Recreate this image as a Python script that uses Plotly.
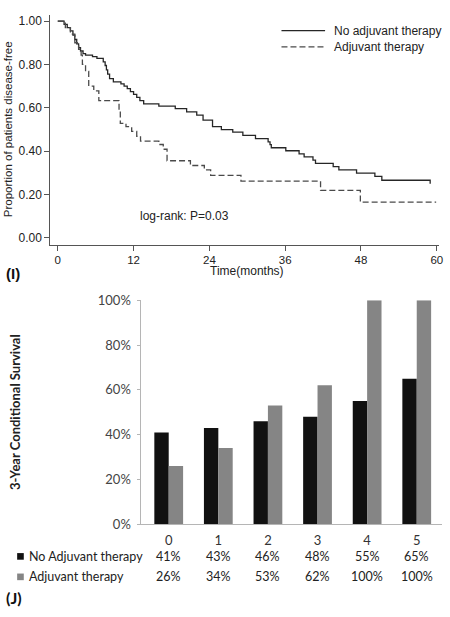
import plotly.graph_objects as go

# ---------------- Data ----------------
# Kaplan-Meier (panel I)
t_no_adj = [0, 1.0, 1.5, 2.0, 2.4, 2.7, 3.0, 3.3, 3.6, 4.0, 4.4, 5.5, 6.2, 7.2, 7.5, 7.7, 7.9, 8.2, 8.8,
            10.0, 10.5, 11.0, 11.5, 12.0, 12.5, 13.0, 13.6, 16.0, 18.6, 20.4, 22.0, 23.0, 24.5, 25.9,
            27.7, 29.3, 31.3, 33.3, 33.6, 33.8, 36.1, 38.2, 39.0, 40.4, 40.8, 43.6, 44.5, 47.3, 50.2,
            51.3, 58.9, 58.95]
s_no_adj = [1.0, 0.985, 0.97, 0.955, 0.935, 0.915, 0.895, 0.877, 0.862, 0.850, 0.843, 0.836, 0.828,
            0.812, 0.795, 0.775, 0.755, 0.735, 0.72, 0.71, 0.70, 0.688, 0.675, 0.662, 0.648, 0.633,
            0.618, 0.608, 0.596, 0.581, 0.566, 0.543, 0.513, 0.499, 0.488, 0.473, 0.458, 0.443, 0.43,
            0.416, 0.402, 0.388, 0.374, 0.359, 0.344, 0.329, 0.314, 0.299, 0.284, 0.266, 0.266, 0.25]

t_adj = [0, 1.2, 2.0, 2.7, 3.3, 3.7, 3.9, 4.4, 4.9, 5.7, 6.5, 9.7, 9.9, 10.8, 11.7, 12.5, 13.1,
         16.0, 16.7, 17.3, 21.0, 23.2, 24.2, 29.0, 41.6, 47.9, 59.9]
s_adj = [1.0, 0.97, 0.94, 0.90, 0.87, 0.843, 0.80, 0.768, 0.70, 0.678, 0.633, 0.58, 0.528, 0.513,
         0.491, 0.469, 0.446, 0.431, 0.409, 0.356, 0.334, 0.314, 0.289, 0.262, 0.219, 0.165, 0.165]

km_xticks = [0, 12, 24, 36, 48, 60]
km_yticks = [0.0, 0.2, 0.4, 0.6, 0.8, 1.0]
km_yticklabels = ["0.00", "0.20", "0.40", "0.60", "0.80", "1.00"]

# Conditional survival (panel J)
years = [0, 1, 2, 3, 4, 5]
cs_no_adj = [41, 43, 46, 48, 55, 65]
cs_adj = [26, 34, 53, 62, 100, 100]
cs_yticks = [0, 20, 40, 60, 80, 100]
cs_yticklabels = ["0%", "20%", "40%", "60%", "80%", "100%"]

series_names = ["No Adjuvant therapy", "Adjuvant therapy"]

# ---------------- Figure ----------------
W, H = 450, 617


def px(x):
    return x / W


def py(y):
    return 1 - y / H


ARIAL = "Liberation Sans"
CAL = "Lato"

fig = go.Figure()
fig.add_trace(go.Scatter(x=t_no_adj, y=s_no_adj, mode="lines", name="No adjuvant therapy",
                         line=dict(shape="hv", color="#262626", width=1.3),
                         xaxis="x", yaxis="y", showlegend=False))
fig.add_trace(go.Scatter(x=t_adj, y=s_adj, mode="lines", name="Adjuvant therapy",
                         line=dict(shape="hv", color="#4a4a4a", width=1.3, dash="6px,3px"),
                         xaxis="x", yaxis="y", showlegend=False))

fig.add_trace(go.Bar(x=years, y=cs_no_adj, name=series_names[0], marker=dict(color="#111111", line=dict(width=0)),
                     xaxis="x2", yaxis="y2", showlegend=False))
fig.add_trace(go.Bar(x=years, y=cs_adj, name=series_names[1], marker=dict(color="#858585", line=dict(width=0)),
                     xaxis="x2", yaxis="y2", showlegend=False))

annotations = []
shapes = []

# KM legend (manual)
leg_rows = [("No adjuvant therapy", 23.3, "solid", "#262626"), ("Adjuvant therapy", 40.0, "6px,3px", "#4a4a4a")]
for text, yy, dash, col in leg_rows:
    shapes.append(dict(type="line", xref="paper", yref="paper", x0=px(284), x1=px(328), y0=py(yy), y1=py(yy),
                       line=dict(color=col, width=1.3, dash=dash)))
    annotations.append(dict(text=text, xref="paper", yref="paper", x=px(335), y=py(yy), xanchor="left",
                            yanchor="middle", showarrow=False, font=dict(family=ARIAL, size=12, color="#222")))

annotations.append(dict(text="log-rank: P=0.03", xref="x", yref="y", x=20, y=0.10, showarrow=False,
                        xanchor="center", yanchor="middle", font=dict(family=ARIAL, size=12, color="#222")))
annotations.append(dict(text="Time(months)", xref="paper", yref="paper", x=px(249.5), y=py(270),
                        showarrow=False, xanchor="center", yanchor="middle",
                        font=dict(family=ARIAL, size=12, color="#222")))
annotations.append(dict(text="Proportion of patients disease-free", xref="paper", yref="paper", x=px(8),
                        y=py(124.5), showarrow=False, textangle=-90, xanchor="center", yanchor="middle",
                        font=dict(family=ARIAL, size=11.5, color="#222")))
annotations.append(dict(text="<b>(I)</b>", xref="paper", yref="paper", x=px(4), y=py(273), showarrow=False,
                        xanchor="left", yanchor="middle", font=dict(family=ARIAL, size=15, color="#111")))

# Panel J labels
annotations.append(dict(text="<b>3-Year Conditional Survival</b>", xref="paper", yref="paper", x=px(15),
                        y=py(415), showarrow=False, textangle=-90, xanchor="center", yanchor="middle",
                        font=dict(family=CAL, size=13, color="#222")))
annotations.append(dict(text="<b>(J)</b>", xref="paper", yref="paper", x=px(4), y=py(605), showarrow=False,
                        xanchor="left", yanchor="middle", font=dict(family=CAL, size=16, color="#111")))

row_y = [563.0, 584.0]
row_col = ["#111111", "#858585"]
row_vals = [cs_no_adj, cs_adj]
for name, yy, col, vals in zip(series_names, row_y, row_col, row_vals):
    shapes.append(dict(type="rect", xref="paper", yref="paper", x0=px(17.3), x1=px(24), y0=py(yy - 3.4),
                       y1=py(yy + 3.4), fillcolor=col, line=dict(width=0)))
    annotations.append(dict(text=name, xref="paper", yref="paper", x=px(27.5), y=py(yy), xanchor="left",
                            yanchor="middle", showarrow=False, font=dict(family=CAL, size=12.5, color="#222")))
    for yr, v in zip(years, vals):
        annotations.append(dict(text=f"{v}%", xref="x2", yref="paper", x=yr, y=py(yy), xanchor="center",
                                yanchor="middle", showarrow=False, font=dict(family=CAL, size=12.5, color="#222")))

fig.update_layout(
    width=W, height=H,
    margin=dict(l=0, r=0, t=0, b=0, pad=0),
    paper_bgcolor="white", plot_bgcolor="white",
    barmode="group", bargap=0.42, bargroupgap=0,
    xaxis=dict(domain=[px(50.7), px(443)], range=[-1.19, 60.36], tickvals=km_xticks, ticks="outside",
               ticklen=5, tickcolor="#555", showline=True, linecolor="#555", linewidth=1, showgrid=False,
               zeroline=False, anchor="y", tickfont=dict(family=ARIAL, size=11.5, color="#222")),
    yaxis=dict(domain=[py(243), py(6.7)], range=[-0.031, 1.03], tickvals=km_yticks, ticktext=km_yticklabels,
               ticks="outside", ticklen=5, tickcolor="#555", showline=True, linecolor="#555", linewidth=1,
               showgrid=False, zeroline=False, anchor="x", tickfont=dict(family=ARIAL, size=12, color="#222")),
    xaxis2=dict(domain=[px(142.7), px(445.5)], range=[-0.55, 5.5], tickvals=years, ticks="", showline=True,
                linecolor="#b5b5b5", linewidth=1, showgrid=False, zeroline=False, anchor="y2",
                ticklabelstandoff=4, tickfont=dict(family=CAL, size=13, color="#333")),
    yaxis2=dict(domain=[py(530), py(300)], range=[0, 100], tickvals=cs_yticks, ticktext=cs_yticklabels,
                ticks="outside", ticklen=3, tickcolor="#b5b5b5", showline=True, linecolor="#b5b5b5", linewidth=1,
                showgrid=False, zeroline=False, anchor="x2", ticklabelstandoff=4,
                tickfont=dict(family=CAL, size=13, color="#444")),
    annotations=annotations,
    shapes=shapes,
)

fig.write_html("out.html", config={"displayModeBar": False},
               post_script="document.body.style.margin='0';document.body.style.overflow='hidden';")
